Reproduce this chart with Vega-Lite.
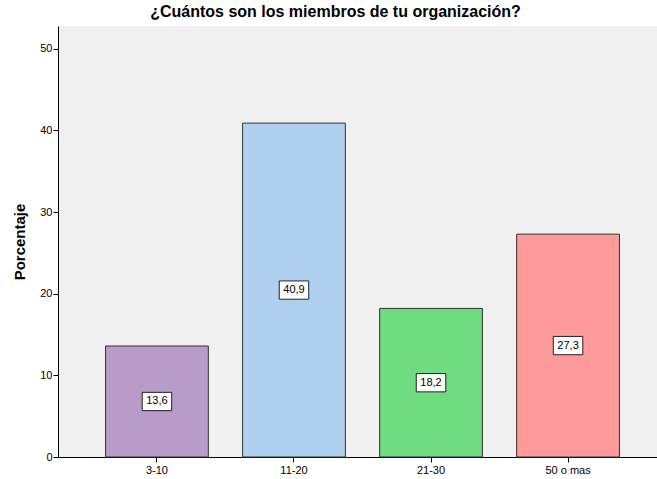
{
  "$schema": "https://vega.github.io/schema/vega-lite/v6.json",
  "autosize": "none",
  "padding": {"left": 58, "top": 26, "right": 0, "bottom": 22},
  "width": 609,
  "height": 431,
  "background": "white",
  "title": {
    "text": "¿Cuántos son los miembros de tu organización?",
    "font": "Liberation Sans",
    "fontSize": 16,
    "fontWeight": "bold",
    "color": "black",
    "anchor": "middle",
    "dx": -27,
    "offset": 6
  },
  "config": {
    "view": {"fill": "#f0f0f0", "stroke": null},
    "font": "Liberation Sans"
  },
  "data": {
    "values": [
      {"grupo": "3-10", "pct": 13.6, "label": "13,6"},
      {"grupo": "11-20", "pct": 40.9, "label": "40,9"},
      {"grupo": "21-30", "pct": 18.2, "label": "18,2"},
      {"grupo": "50 o mas", "pct": 27.3, "label": "27,3"}
    ]
  },
  "transform": [{"calculate": "datum.pct / 2", "as": "mid"}],
  "encoding": {
    "x": {
      "field": "grupo",
      "type": "nominal",
      "sort": null,
      "scale": {"paddingInner": 0.25, "paddingOuter": 0.347},
      "axis": {
        "title": null,
        "labelAngle": 0,
        "labelFont": "Liberation Sans",
        "labelFontSize": 11,
        "labelColor": "black",
        "domainColor": "black",
        "tickColor": "black",
        "tickSize": 5,
        "labelPadding": 2
      }
    }
  },
  "layer": [
    {
      "mark": {"type": "bar", "stroke": "#333333", "strokeWidth": 1},
      "encoding": {
        "y": {
          "field": "pct",
          "type": "quantitative",
          "scale": {"domain": [0, 52.8], "nice": false},
          "axis": {
            "title": "Porcentaje",
            "titleFont": "Liberation Sans",
            "titleFontSize": 15,
            "titleFontWeight": "bold",
            "titleColor": "black",
            "titlePadding": 12,
            "values": [0, 10, 20, 30, 40, 50],
            "grid": false,
            "labelFont": "Liberation Sans",
            "labelFontSize": 11,
            "labelColor": "black",
            "domainColor": "black",
            "tickColor": "black",
            "tickSize": 5,
            "labelPadding": 1
          }
        },
        "fill": {
          "field": "grupo",
          "type": "nominal",
          "legend": null,
          "scale": {
            "domain": ["3-10", "11-20", "21-30", "50 o mas"],
            "range": ["#b89bc9", "#afd0ef", "#6fdc80", "#fe9a9a"]
          }
        }
      }
    },
    {
      "mark": {
        "type": "point",
        "shape": "M-1,-0.62H1V0.62H-1Z",
        "filled": true,
        "fill": "white",
        "stroke": "#222222",
        "strokeWidth": 1,
        "opacity": 1,
        "size": 870
      },
      "encoding": {
        "y": {"field": "mid", "type": "quantitative"}
      }
    },
    {
      "mark": {"type": "text", "font": "Liberation Sans", "fontSize": 11, "color": "black", "baseline": "middle"},
      "encoding": {
        "y": {"field": "mid", "type": "quantitative"},
        "text": {"field": "label"}
      }
    }
  ]
}
